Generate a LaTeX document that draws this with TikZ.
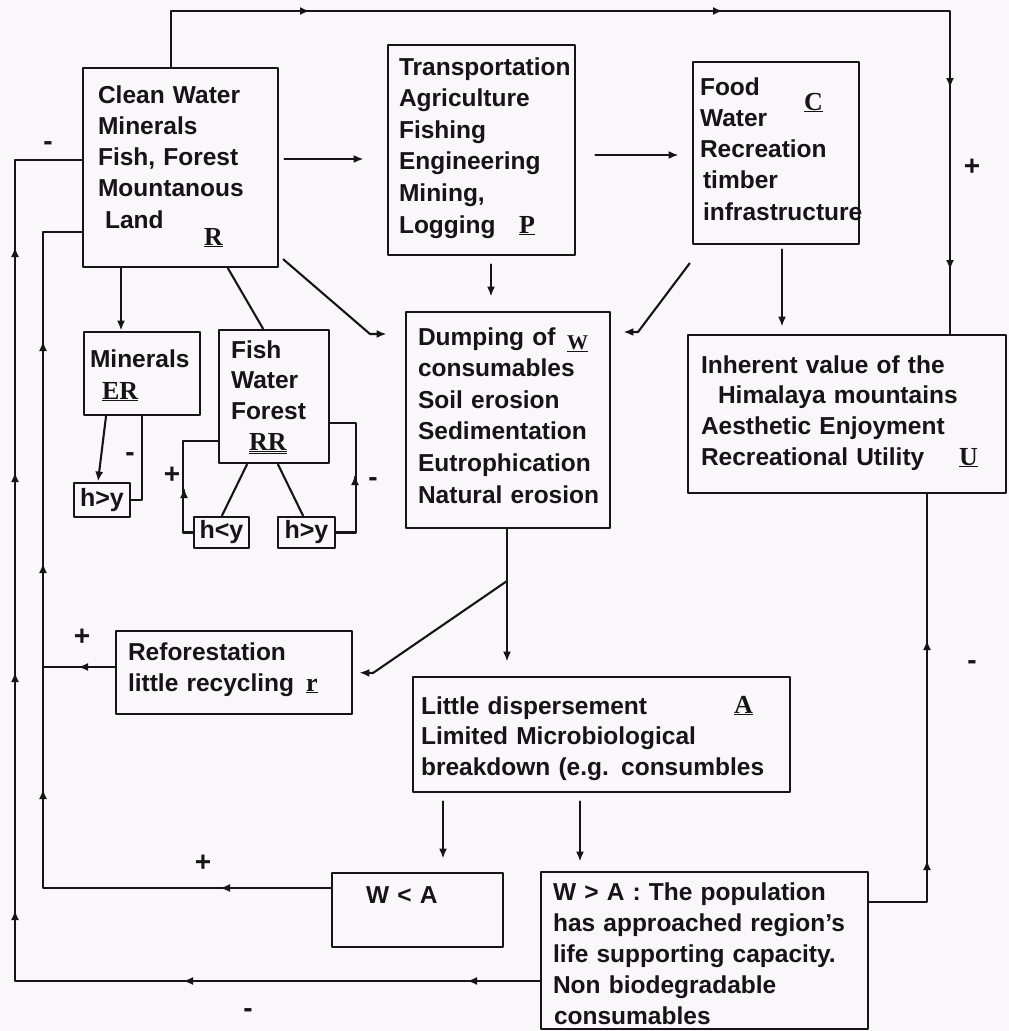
\documentclass[tikz,border=0pt]{standalone}
\usepackage{fontspec}
\setmainfont{Liberation Sans}
\newfontfamily\lblfont{Liberation Serif}
\usetikzlibrary{fit,arrows.meta}
\definecolor{paper}{RGB}{250,247,251}
\definecolor{ink}{RGB}{22,20,22}
\tikzset{
  box/.style={draw=ink, line width=2.8pt, inner sep=0pt},
  txt/.style={font=\bfseries\fontsize{24.5}{#1}\selectfont, text width=420pt, align=left, inner sep=0pt, anchor=base west},
  txt/.default=31.3,
  lbl/.style={font=\lblfont\bfseries\fontsize{26}{28}\selectfont, inner sep=0pt, anchor=base west},
  sgn/.style={font=\bfseries\fontsize{28}{30}\selectfont, inner sep=0pt},
  hy/.style={box, font=\bfseries\fontsize{25}{28}\selectfont},
}
\newcommand{\midtip}[2]{\draw[->] (#1) ++(#2) -- (#1);}
\begin{document}
\begin{tikzpicture}[x=1pt,y=-1pt,color=ink,line width=2.1pt,line join=round,line cap=round,>={Latex[length=10pt,width=8pt]}]
\path[use as bounding box,fill=paper] (0,0) rectangle (1009,1031);
\path
(15,160) coordinate (o1)
(43,232) coordinate (i1)
(171,11) coordinate (t1)
(950,11) coordinate (t2)
(507,581) coordinate (sp)
;
% boxes
\node[box,fit={(83,68) (278,267)}] (R) {};
\node[box,fit={(388,45) (575,255)}] (P) {};
\node[box,fit={(693,62) (859,244)}] (C) {};
\node[box,fit={(406,312) (610,528)}] (W) {};
\node[box,fit={(688,335) (1006,493)}] (U) {};
\node[box,fit={(84,332) (200,415)}] (ER) {};
\node[box,fit={(219,330) (329,463)}] (RR) {};
\node[hy,minimum width=56pt,minimum height=34pt] (hy1) at (102,500) {h>y};
\node[hy,minimum width=55pt,minimum height=31pt] (hy2) at (221.5,532.5) {h<y};
\node[hy,minimum width=57pt,minimum height=31pt] (hy3) at (306.5,532.5) {h>y};
\node[box,fit={(116,631) (352,714)}] (r) {};
\node[box,fit={(413,677) (790,792)}] (A) {};
\node[box,fit={(332,873) (503,947)}] (WlA) {};
\node[box,fit={(541,872) (868,1029)}] (WgA) {};
% texts
\node[txt] (Rt) at (97,103) {Clean Water\\Minerals\\Fish, Forest\\Mountanous\\\hspace*{7pt}Land};
\node[lbl] (Rl) at (203,245) {\underline{R}};
\node[txt=31.6] (Pt) at (398,75) {Transportation\\Agriculture\\Fishing\\Engineering\\Mining,\\Logging};
\node[lbl] (Pl) at (518,233) {\underline{P}};
\node[txt] (Ct) at (699,95) {Food\\Water\\Recreation\\\hspace*{3pt}timber\\\hspace*{3pt}infrastructure};
\node[lbl] (Cl) at (803,110) {\underline{C}};
\node[txt=31.6] (Wt) at (417,345) {Dumping of\\consumables\\Soil erosion\\Sedimentation\\Eutrophication\\Natural erosion};
\node[lbl,font=\lblfont\bfseries\fontsize{21}{24}\selectfont] (Wl) at (566,349) {\underline{W}};
\node[txt=30.7] (Ut) at (700,373) {Inherent value of the\\\hspace*{17pt}Himalaya mountains\\Aesthetic Enjoyment\\Recreational Utility};
\node[lbl] (Ul) at (958,465) {\underline{U}};
\node[txt] (ERt) at (89,367) {Minerals};
\node[lbl] (ERl) at (101,399) {\underline{ER}};
\node[txt=30.7] (RRt) at (230,358) {Fish\\Water\\Forest};
\node[lbl] (RRl) at (248,450) {\underline{\underline{RR}}};
\node[txt=31] (rt) at (127,660) {Reforestation\\little recycling};
\node[lbl] (rl) at (305,691) {\underline{r}};
\node[txt=30.5] (At) at (420,714) {Little dispersement\\Limited Microbiological\\breakdown (e.g. consumbles};
\node[lbl] (Al) at (733,713) {\underline{A}};
\node[txt] (WlAt) at (365,903) {W < A};
\node[txt=31] (WgAt) at (552,900) {W > A : The population\\has approached region's\\life supporting capacity.\\Non biodegradable\\\hspace*{1pt}consumables};
% connectors
\draw (R.north -| t1) |- (t2) -- (U.north -| t2);
\draw[->,shorten <=5pt,shorten >=23pt] (R.east |- 0,159) -- (P.west |- 0,159);
\draw[->,shorten <=19pt,shorten >=13pt] (P.east |- 0,155) -- (C.west |- 0,155);
\draw[->,shorten <=8pt,shorten >=14pt] (P.south -| 491,0) -- (W.north -| 491,0);
\draw[->,shorten <=4pt,shorten >=7pt] (C.south -| 782,0) -- (U.north -| 782,0);
\draw[->] (R.south -| 121,0) -- (ER.north -| 121,0);
\draw (R.south -| 228,0) -- (RR.north -| 263,0);
\draw[->,shorten >=18pt] ([shift={(4,-9)}]R.south east) -- (370,334) -- (W.west |- 0,334);
\draw[->,shorten >=12pt] ([shift={(-2,18)}]C.south west) -- (638,332) -- (W.east |- 0,332);
\draw[->] (ER.south -| 106,0) -- (hy1.north -| 98,0);
\draw (hy1.east) -| (ER.south -| 142,0);
\draw (RR.west |- 0,441) -| ([xshift=-10]hy2.west) -- (hy2.west);
\draw (RR.east |- 0,423) -| ([xshift=20]hy3.east) -- (hy3.east);
\draw (RR.south -| 247,0) -- (hy2.north -| 222,0);
\draw (RR.south -| 278,0) -- (hy3.north -| 303,0);
\draw[->,shorten >=14pt] (W.south -| sp) -- (A.north -| sp);
\draw[->,shorten >=6pt] (sp) -- (373,673) -- (r.east);
\draw[->,shorten <=8pt,shorten >=13pt] (A.south -| 443,0) -- (WlA.north -| 443,0);
\draw[->,shorten <=8pt,shorten >=9pt] (A.south -| 580,0) -- (WgA.north -| 580,0);
\draw (WgA.east |- 0,902) -| (U.south -| 927,0);
\draw (WgA.west |- 0,981) -| (o1) -- (R.west |- o1);
\draw (WlA.west |- 0,888) -| (i1) -- (R.west |- i1);
\draw (r.west |- 0,667) -- (i1 |- 0,667);
% arrow heads along the loops
\foreach \q in {{15,910},{15,672},{15,472},{15,247},{43,789},{43,563},{43,341},{184,488},{355,475},{927,860},{927,640}}
  \midtip{\q}{0,2};
\foreach \q in {{467,981},{183,981},{220,888},{78,667}}
  \midtip{\q}{2,0};
\foreach \q in {{310,11},{723,11}}
  \midtip{\q}{-2,0};
\foreach \q in {{950,88},{950,270}}
  \midtip{\q}{0,-2};
% signs
\foreach \p/\s [count=\i] in {{972,167}/+, {48,146}/-, {172,475}/+, {373,482}/-, {130,457}/-, {82,637}/+, {203,863}/+, {248,1013}/-, {972,665}/-}
  \node[sgn] (sg\i) at (\p) {\s};
\end{tikzpicture}
\end{document}
